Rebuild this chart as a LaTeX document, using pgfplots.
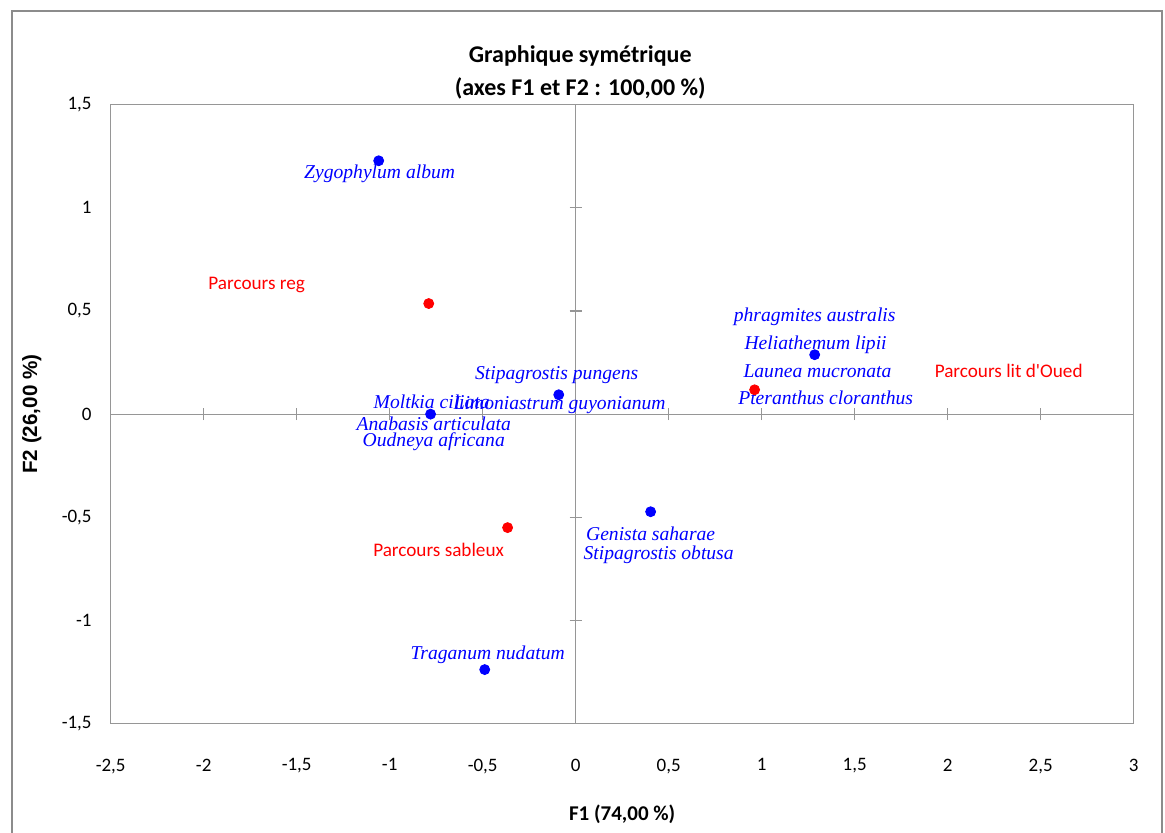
\documentclass[border=0pt]{standalone}
\usepackage{pgfplots}
\pgfplotsset{compat=1.18}
\usepackage{fontspec}
\setmainfont{Carlito}
\newfontfamily\serifit{Liberation Serif}
\newfontfamily\arialb{Liberation Sans}
\definecolor{fr}{RGB}{140,140,140}
\definecolor{axc}{RGB}{150,150,150}
\definecolor{ptblue}{RGB}{0,0,255}
\definecolor{ptred}{RGB}{255,0,0}
\begin{document}
\begin{tikzpicture}[x=1pt,y=1pt]
\useasboundingbox (0,0) rectangle (582.5,416.5);
\draw[fr, line width=1pt] (6,-10) -- (6,410.75) -- (581,410.75) -- (581,-10);
\pgfplotsset{common/.style={
  at={(59.5,53)}, anchor=south west,
  width=511.5pt, height=309.5pt, scale only axis,
  xmin=-2.5, xmax=3, ymin=-1.5, ymax=1.5,
  xtick={-2.5,-2,-1.5,-1,-0.5,0,0.5,1,1.5,2,2.5,3},
  ytick={-1.5,-1,-0.5,0,0.5,1,1.5},
}}
% zero lines with cross ticks
\begin{axis}[common,
  axis lines=middle, axis line style={-, axc, line width=0.6pt},
  xticklabel=\empty, yticklabel=\empty,
  tick align=center, major tick length=6pt,
  tick style={axc, line width=0.6pt},
]
\end{axis}
\begin{axis}[common,
  axis line style={axc, line width=0.6pt},
  major tick length=0pt,
  tick label style={font=\fontsize{9.5}{11}\selectfont},
  /pgf/number format/assume math mode=true,
  /pgf/number format/use comma,
  xticklabel shift=14pt, yticklabel shift=6pt,
  xlabel={F1 (74,00 \%)},
  xlabel style={at={(axis description cs:0.5,-0.147)}, anchor=center, font=\bfseries\fontsize{10.5}{12}\selectfont},
  ylabel={F2 (26,00 \%)},
  ylabel style={at={(axis description cs:-0.077,0.5)}, anchor=center, font=\arialb\bfseries\fontsize{10.3}{12}\selectfont},
  title={Graphique symétrique\\(axes F1 et F2 : 100,00 \%)},
  title style={at={(axis description cs:0.459,1.0331)}, anchor=center, align=center, font=\bfseries\fontsize{12}{16.5}\selectfont},
  clip=false,
]
\addplot[only marks, mark=*, mark size=2.5pt, color=ptblue, mark options={fill=ptblue, draw=ptblue}] coordinates {
  (-1.059,1.228) (-0.780,0.000) (-0.091,0.094) (1.285,0.288) (0.403,-0.473) (-0.489,-1.238)
};
\addplot[only marks, mark=*, mark size=2.5pt, color=ptred, mark options={fill=ptred, draw=ptred}] coordinates {
  (-0.790,0.536) (0.962,0.118) (-0.366,-0.550)
};
\begin{scope}[every node/.style={font=\serifit\itshape\fontsize{9.8}{11}\selectfont, text=ptblue, inner sep=0pt}]
\node at (axis cs:-1.054,1.166) {Zygophylum album};
\node at (axis cs:1.285,0.473) {phragmites australis};
\node at (axis cs:1.290,0.337) {Heliathemum lipii};
\node at (axis cs:1.300,0.206) {Launea mucronata};
\node at (axis cs:1.344,0.080) {Pteranthus cloranthus};
\node at (axis cs:-0.102,0.191) {Stipagrostis pungens};
\node at (axis cs:-0.086,0.046) {Limoniastrum guyonianum};
\node at (axis cs:-0.774,0.061) {Moltkia ciliata};
\node at (axis cs:-0.763,-0.046) {Anabasis articulata};
\node at (axis cs:-0.763,-0.133) {Oudneya africana};
\node at (axis cs:0.403,-0.579) {Genista saharae};
\node at (axis cs:0.446,-0.681) {Stipagrostis obtusa};
\node at (axis cs:-0.473,-1.166) {Traganum nudatum};
\end{scope}
\begin{scope}[every node/.style={font=\fontsize{9.6}{11}\selectfont, text=ptred, inner sep=0pt}]
\node at (axis cs:-1.715,0.628) {Parcours reg};
\node at (axis cs:2.328,0.211) {Parcours lit d\textquotesingle Oued};
\node at (axis cs:-0.737,-0.657) {Parcours sableux};
\end{scope}
\end{axis}
\end{tikzpicture}
\end{document}
